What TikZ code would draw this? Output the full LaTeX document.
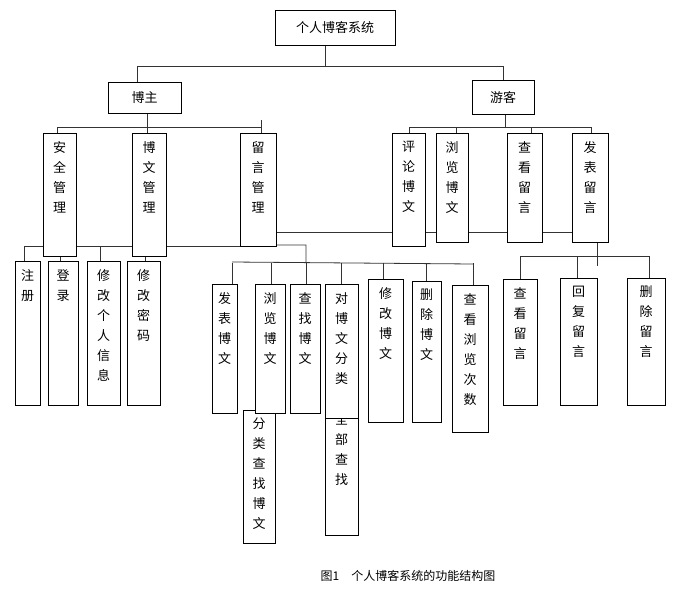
\documentclass[tikz,border=0pt]{standalone}
\usepackage{fontspec}
\setmainfont{Noto Sans CJK SC}
\begin{document}
\begin{tikzpicture}[x=1pt,y=-1pt,
  bxs/.style={draw=black,fill=white,line width=0.8pt},
  ln/.style={draw=black!80,line width=0.8pt},
  txt/.style={align=center,inner sep=0pt,font=\fontsize{13}{20}\selectfont}]
\useasboundingbox[fill=white] (0,0) rectangle (686,600);
\newcommand\B[6]{\draw[bxs] (#2,#3) rectangle (#4,#5);
  \node[txt,anchor=north] (#1) at ({(#2+#4)/2},#3+8) {#6};}
% connectors
\draw[ln] (325,45) -- (325,66) (137,66) -- (503,66) (137,66) -- (137,82) (503,66) -- (503,80);
\draw[ln] (147,113) -- (147,133) (57,127) -- (261,127) (57,127) -- (57,133) (261,120) -- (261,133);
\draw[ln] (505,114) -- (505,127) (409,127) -- (591,127);
\foreach \x in {409,456,531,591} \draw[ln] (\x,127) -- (\x,133);
\draw[ln] (277,232) -- (572,232);
\draw[ln] (24,246) -- (240,246);
\foreach \x in {24,60,100,145} \draw[ln] (\x,246) -- (\x,262);
\draw[ln] (274,245) -- (306,245) -- (306,263) (232,262) -- (473,264);
\foreach \x/\y in {232/284,271/284,306/284,341/284,383/279,426/281,473/285} \draw[ln] (\x,263) -- (\x,\y);
\draw[ln] (597,242) -- (597,266) (520,256) -- (649,256);
\foreach \x in {520,577,649} \draw[ln] (\x,256) -- (\x,279);
% boxes
\draw[bxs] (275,10) rectangle (395,45);
\node[txt] (root) at (335,27.5) {个人博客系统};
\draw[bxs] (108,82) rectangle (181,113);
\node[txt] (bz) at (144.5,97.5) {博主};
\draw[bxs] (472,80) rectangle (534,114);
\node[txt] (yk) at (503,97) {游客};
\B{aq}{43}{133}{76}{256}{安\\全\\管\\理}
\B{bw}{132}{133}{166}{256}{博\\文\\管\\理}
\B{ly}{240}{133}{276}{246}{留\\言\\管\\理}
\B{pl}{392}{133}{425}{246}{评\\论\\博\\文}
\B{ll}{436}{133}{468}{242}{浏\\览\\博\\文}
\B{ck}{507}{133}{542}{242}{查\\看\\留\\言}
\B{fb}{572}{133}{608}{242}{发\\表\\留\\言}
\B{zc}{15}{261}{40}{405}{注\\册}
\B{dl}{48}{261}{78}{405}{登\\录}
\B{xg}{87}{261}{120}{405}{修\\改\\个\\人\\信\\息}
\B{xm}{127}{261}{160}{405}{修\\改\\密\\码}
\B{fbw}{212}{284}{237}{413}{发\\表\\博\\文}
\B{fl}{243}{410}{275}{543}{分\\类\\查\\找\\博\\文}
\B{llw}{255}{284}{285}{413}{浏\\览\\博\\文}
\B{cz}{290}{284}{320}{413}{查\\找\\博\\文}
\B{qb}{325}{405}{358}{535}{全\\部\\查\\找}
\B{fl2}{325}{284}{358}{418}{对\\博\\文\\分\\类}
\B{xgw}{368}{279}{403}{422}{修\\改\\博\\文}
\B{sc}{412}{281}{441}{422}{删\\除\\博\\文}
\B{cl}{452}{285}{488}{432}{查\\看\\浏\\览\\次\\数}
\B{cky}{503}{279}{537}{405}{查\\看\\留\\言}
\B{hf}{560}{278}{597}{405}{回\\复\\留\\言}
\B{scl}{627}{278}{665}{405}{删\\除\\留\\言}
\node[font=\fontsize{12}{14}\selectfont] (cap) at (408,576) {图1\quad 个人博客系统的功能结构图};
\end{tikzpicture}
\end{document}
